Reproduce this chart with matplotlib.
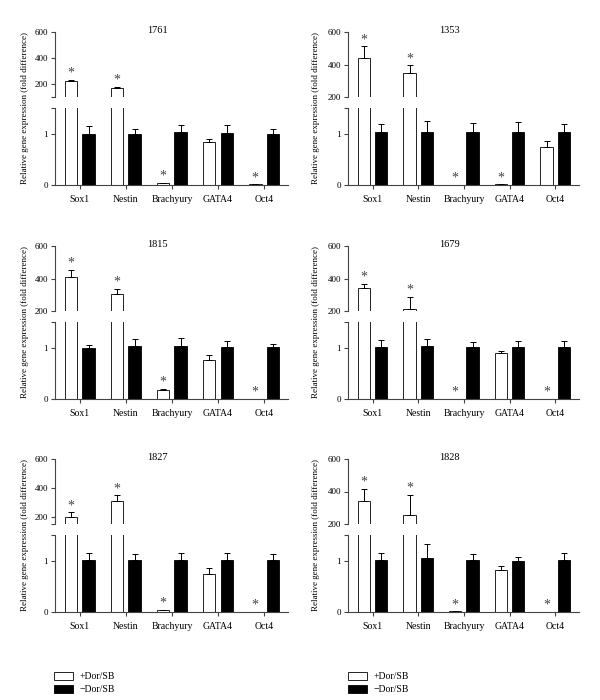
import matplotlib.pyplot as plt
from matplotlib.patches import Patch
import numpy as np

plt.rcParams['font.family'] = ['Liberation Serif', 'DejaVu Serif']

genes = ['Sox1', 'Nestin', 'Brachyury', 'GATA4', 'Oct4']
panel_names = ['1761', '1353', '1815', '1679', '1827', '1828']

# +Dor/SB (open bars) and -Dor/SB (black bars), mean and upper error
plus_1761 = [221, 169, 0.03, 0.84, 0.01]
plus_err_1761 = [10, 10, 0.01, 0.06, 0.005]
minus_1761 = [1.00, 1.00, 1.03, 1.01, 1.00]
minus_err_1761 = [0.14, 0.10, 0.14, 0.15, 0.09]
stars_1761 = [1, 1, 1, 0, 1]

plus_1353 = [438, 350, 0.005, 0.01, 0.75]
plus_err_1353 = [75, 45, 0.0, 0.005, 0.11]
minus_1353 = [1.03, 1.04, 1.03, 1.03, 1.03]
minus_err_1353 = [0.16, 0.20, 0.17, 0.19, 0.15]
stars_1353 = [1, 1, 1, 1, 0]

plus_1815 = [410, 302, 0.17, 0.76, 0.003]
plus_err_1815 = [45, 35, 0.03, 0.09, 0.0]
minus_1815 = [1.00, 1.03, 1.03, 1.02, 1.01]
minus_err_1815 = [0.05, 0.13, 0.15, 0.11, 0.07]
stars_1815 = [1, 1, 1, 0, 1]

plus_1679 = [344, 214, 0.003, 0.90, 0.003]
plus_err_1679 = [24, 74, 0.0, 0.04, 0.0]
minus_1679 = [1.02, 1.03, 1.01, 1.02, 1.02]
minus_err_1679 = [0.13, 0.13, 0.10, 0.11, 0.11]
stars_1679 = [1, 1, 1, 0, 1]

plus_1827 = [196, 306, 0.03, 0.75, 0.005]
plus_err_1827 = [34, 43, 0.015, 0.10, 0.0]
minus_1827 = [1.01, 1.01, 1.01, 1.01, 1.01]
minus_err_1827 = [0.14, 0.12, 0.14, 0.13, 0.12]
stars_1827 = [1, 1, 1, 0, 1]

plus_1828 = [344, 256, 0.01, 0.82, 0.003]
plus_err_1828 = [73, 124, 0.0, 0.08, 0.0]
minus_1828 = [1.01, 1.06, 1.01, 0.99, 1.01]
minus_err_1828 = [0.13, 0.26, 0.12, 0.08, 0.13]
stars_1828 = [1, 1, 1, 0, 1]

# lower limit of the upper (broken) axis in each panel
upper_floor = [100, 200, 200, 200, 150, 200]

panels = [
    (plus_1761, plus_err_1761, minus_1761, minus_err_1761, stars_1761),
    (plus_1353, plus_err_1353, minus_1353, minus_err_1353, stars_1353),
    (plus_1815, plus_err_1815, minus_1815, minus_err_1815, stars_1815),
    (plus_1679, plus_err_1679, minus_1679, minus_err_1679, stars_1679),
    (plus_1827, plus_err_1827, minus_1827, minus_err_1827, stars_1827),
    (plus_1828, plus_err_1828, minus_1828, minus_err_1828, stars_1828),
]

W, H = 600, 700
fig = plt.figure(figsize=(6, 7), dpi=100)

col_x = [55, 348]
col_w = [233, 231]
row_top = [32, 246, 459]
up_h, gap, low_h = 65, 11, 77

spine_col = '#444444'
x = np.arange(len(genes))
bw = 0.27
off = 0.19


def px_axes(left, top, width, height):
    return fig.add_axes([left / W, 1 - (top + height) / H, width / W, height / H])


def draw_bars(ax, plus, plus_err, minus, minus_err):
    ax.bar(x - off, plus, bw, color='white', edgecolor='black', linewidth=0.6)
    ax.bar(x + off, minus, bw, color='black', edgecolor='black', linewidth=0.6)
    ax.errorbar(x - off, plus, yerr=[np.zeros(len(plus)), plus_err], fmt='none',
                ecolor='black', elinewidth=0.7, capsize=2.5, capthick=0.7)
    ax.errorbar(x + off, minus, yerr=[np.zeros(len(minus)), minus_err], fmt='none',
                ecolor='black', elinewidth=0.7, capsize=2.5, capthick=0.7)
    ax.set_xlim(-0.54, 4.52)


for i, (plus, plus_err, minus, minus_err, stars) in enumerate(panels):
    r, c = divmod(i, 2)
    top = row_top[r]
    ax_up = px_axes(col_x[c], top, col_w[c], up_h)
    ax_lo = px_axes(col_x[c], top + up_h + gap, col_w[c], low_h)

    for ax in (ax_up, ax_lo):
        draw_bars(ax, plus, plus_err, minus, minus_err)
        for s in ['top', 'right']:
            ax.spines[s].set_visible(False)
        ax.spines['left'].set_color(spine_col)
        ax.spines['left'].set_linewidth(0.8)
        ax.tick_params(axis='y', direction='out', length=3, width=0.8,
                       color=spine_col, labelsize=6.5, pad=2)

    # upper part: 200-600 scale
    ax_up.spines['bottom'].set_visible(False)
    ax_up.set_ylim(upper_floor[i], 600)
    ticks = [upper_floor[i]] + [t for t in [200, 400, 600] if t > upper_floor[i]]
    labels = ['' if t not in (200, 400, 600) else str(t) for t in ticks]
    if upper_floor[i] == 200:
        labels[0] = '200'
    ax_up.set_yticks(ticks)
    ax_up.set_yticklabels(labels)
    ax_up.set_xticks([])

    # lower part: 0-1.5 scale
    ax_lo.set_ylim(0, 1.5)
    ax_lo.set_yticks([0, 1, 1.5])
    ax_lo.set_yticklabels(['0', '1', ''])
    ax_lo.spines['bottom'].set_color(spine_col)
    ax_lo.spines['bottom'].set_linewidth(0.8)
    ax_lo.set_xticks(x)
    ax_lo.set_xticklabels(genes)
    ax_lo.tick_params(axis='x', direction='out', length=3, width=0.8,
                      color=spine_col, labelsize=7, pad=4)

    # significance marks
    for j in range(len(genes)):
        if not stars[j]:
            continue
        yv = plus[j] + plus_err[j]
        target = ax_up if plus[j] > 1.5 else ax_lo
        target.annotate('*', (x[j] - off, yv), textcoords='offset points',
                        xytext=(0, 0), ha='center', va='bottom', fontsize=10,
                        color='#444444')

    ax_up.text(0.44, 1.02, panel_names[i], transform=ax_up.transAxes,
               ha='center', va='center', fontsize=7.5)

    fig.text([25, 316][c] / W, 1 - (top + 76) / H,
             'Relative gene expression (fold difference)', rotation=90,
             ha='center', va='center', fontsize=6.5)

# legends under each column
handles = [Patch(facecolor='white', edgecolor='black', linewidth=0.6, label='+Dor/SB'),
           Patch(facecolor='black', edgecolor='black', linewidth=0.6, label='\u2212Dor/SB')]
for lx in [50, 344]:
    fig.legend(handles=handles, loc='upper left', bbox_to_anchor=(lx / W, 1 - 668 / H),
               frameon=False, fontsize=7, handlelength=2.0, handleheight=0.9,
               labelspacing=0.35, handletextpad=0.6, borderaxespad=0)

fig.savefig('out.png', dpi=100)
